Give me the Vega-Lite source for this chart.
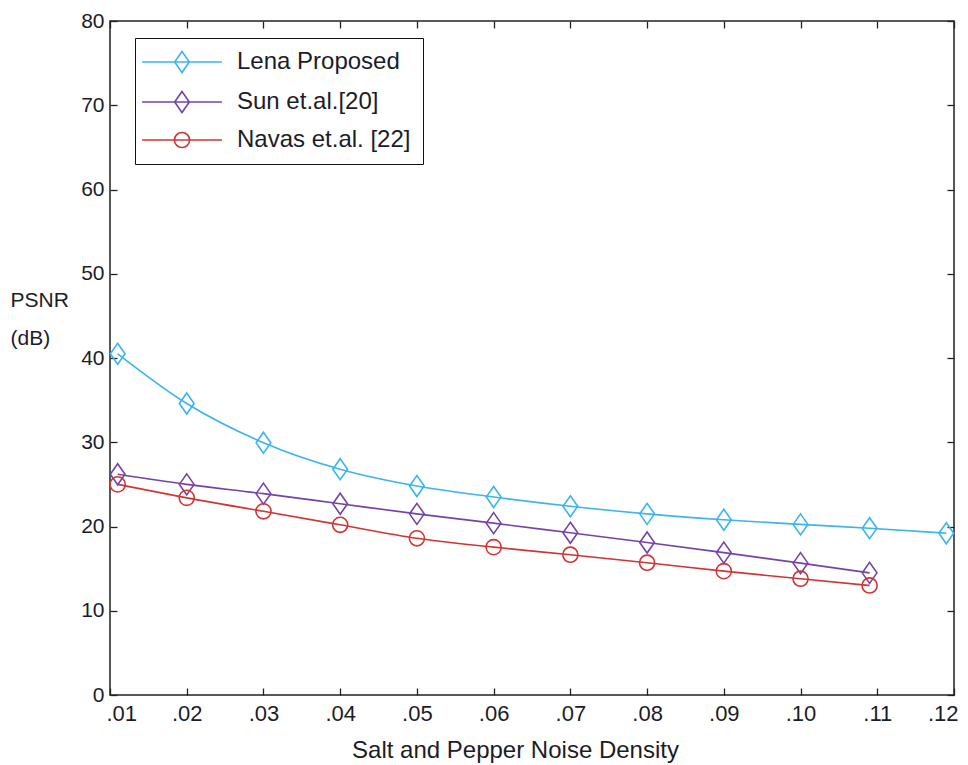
{
  "$schema": "https://vega.github.io/schema/vega-lite/v6.json",
  "width": 844,
  "height": 674,
  "autosize": "none",
  "padding": {"left": 110, "top": 21, "right": 14, "bottom": 70},
  "background": "white",
  "config": {
    "view": {"stroke": "#222222", "strokeWidth": 1.5},
    "font": "Liberation Sans, Arial, sans-serif"
  },
  "data": {
    "values": [
      {"method": "Lena Proposed", "density": 0.011, "psnr": 40.5},
      {"method": "Lena Proposed", "density": 0.02, "psnr": 34.6},
      {"method": "Lena Proposed", "density": 0.03, "psnr": 29.95},
      {"method": "Lena Proposed", "density": 0.04, "psnr": 26.8},
      {"method": "Lena Proposed", "density": 0.05, "psnr": 24.8},
      {"method": "Lena Proposed", "density": 0.06, "psnr": 23.5},
      {"method": "Lena Proposed", "density": 0.07, "psnr": 22.4},
      {"method": "Lena Proposed", "density": 0.08, "psnr": 21.5},
      {"method": "Lena Proposed", "density": 0.09, "psnr": 20.8},
      {"method": "Lena Proposed", "density": 0.10, "psnr": 20.25},
      {"method": "Lena Proposed", "density": 0.109, "psnr": 19.8},
      {"method": "Lena Proposed", "density": 0.119, "psnr": 19.2},
      {"method": "Sun et.al.[20]", "density": 0.011, "psnr": 26.2},
      {"method": "Sun et.al.[20]", "density": 0.02, "psnr": 25.0},
      {"method": "Sun et.al.[20]", "density": 0.03, "psnr": 23.9},
      {"method": "Sun et.al.[20]", "density": 0.04, "psnr": 22.7},
      {"method": "Sun et.al.[20]", "density": 0.05, "psnr": 21.5},
      {"method": "Sun et.al.[20]", "density": 0.06, "psnr": 20.4},
      {"method": "Sun et.al.[20]", "density": 0.07, "psnr": 19.25},
      {"method": "Sun et.al.[20]", "density": 0.08, "psnr": 18.1},
      {"method": "Sun et.al.[20]", "density": 0.09, "psnr": 16.9},
      {"method": "Sun et.al.[20]", "density": 0.10, "psnr": 15.65},
      {"method": "Sun et.al.[20]", "density": 0.109, "psnr": 14.5},
      {"method": "Navas et.al. [22]", "density": 0.011, "psnr": 25.0},
      {"method": "Navas et.al. [22]", "density": 0.02, "psnr": 23.4},
      {"method": "Navas et.al. [22]", "density": 0.03, "psnr": 21.8},
      {"method": "Navas et.al. [22]", "density": 0.04, "psnr": 20.2},
      {"method": "Navas et.al. [22]", "density": 0.05, "psnr": 18.6},
      {"method": "Navas et.al. [22]", "density": 0.06, "psnr": 17.55},
      {"method": "Navas et.al. [22]", "density": 0.07, "psnr": 16.65},
      {"method": "Navas et.al. [22]", "density": 0.08, "psnr": 15.7},
      {"method": "Navas et.al. [22]", "density": 0.09, "psnr": 14.7},
      {"method": "Navas et.al. [22]", "density": 0.10, "psnr": 13.8},
      {"method": "Navas et.al. [22]", "density": 0.109, "psnr": 13.0}
    ]
  },
  "encoding": {
    "color": {
      "field": "method", "type": "nominal",
      "scale": {
        "domain": ["Lena Proposed", "Sun et.al.[20]", "Navas et.al. [22]"],
        "range": ["#3bb5ec", "#7443a8", "#d03535"]
      },
      "legend": {
        "title": null, "orient": "none", "legendX": 25, "legendY": 17,
        "padding": 12, "strokeColor": "#111111", "fillColor": "white",
        "symbolSize": 441, "symbolStrokeWidth": 1.6, "symbolOffset": 23,
        "symbolFillColor": "transparent",
        "symbolType": {"expr": "datum.value === 'Navas et.al. [22]' ? 'M-3.8,0H3.8M0.72,0A0.72,0.72,0,1,1,-0.72,0A0.72,0.72,0,1,1,0.72,0Z' : 'M-3.8,0H3.8M0,-1L0.7,0L0,1L-0.7,0Z'"},
        "labelOffset": 43, "labelFontSize": 24, "labelColor": "#1c1c28",
        "labelExpr": "datum.label + '\u00a0\u00a0\u00a0\u00a0'",
        "rowPadding": 12, "labelLimit": 400
      }
    }
  },
  "layer": [
    {
      "mark": {"type": "line", "interpolate": "monotone", "strokeWidth": 1.6},
      "encoding": {
        "x": {
          "field": "density", "type": "quantitative",
          "scale": {"domain": [0.01, 0.12], "nice": false, "zero": false},
          "axis": {
            "orient": "bottom",
            "values": [0.01, 0.02, 0.03, 0.04, 0.05, 0.06, 0.07, 0.08, 0.09, 0.10, 0.11, 0.12],
            "labelExpr": "substring(format(datum.value, '.2f'), 1)",
            "domain": false, "grid": false,
            "tickSize": -7, "tickColor": "#222222", "tickWidth": 1.3,
            "labelPadding": 15,
            "labelFlush": true, "labelFlushOffset": 4,
            "labelFontSize": 22, "labelColor": "#1c1c28",
            "title": "Salt and Pepper Noise Density",
            "titleFontSize": 24, "titleFontWeight": "normal", "titleColor": "#1c1c28",
            "titleX": 405, "titleY": 62, "titleBaseline": "alphabetic", "titleAlign": "center"
          }
        },
        "y": {
          "field": "psnr", "type": "quantitative",
          "scale": {"domain": [0, 80], "nice": false},
          "axis": {
            "orient": "left",
            "values": [0, 10, 20, 30, 40, 50, 60, 70, 80],
            "domain": false, "grid": false,
            "tickSize": -7, "tickColor": "#222222", "tickWidth": 1.3,
            "labelPadding": 13,
            "labelFontSize": 21, "labelColor": "#1c1c28",
            "title": ["PSNR", "(dB)"],
            "titleAngle": 0, "titleAlign": "left", "titleBaseline": "top",
            "titleX": -100, "titleY": 268,
            "titleFontSize": 21, "titleFontWeight": "normal", "titleColor": "#1c1c28",
            "titleLineHeight": 38
          }
        }
      }
    },
    {
      "transform": [{"filter": "datum.method !== 'Navas et.al. [22]'"}],
      "mark": {"type": "point", "filled": false, "size": 441, "strokeWidth": 1.6, "opacity": 1, "shape": "M0,-1L0.7,0L0,1L-0.7,0Z"},
      "encoding": {
        "x": {
          "field": "density", "type": "quantitative",
          "scale": {"domain": [0.01, 0.12], "nice": false, "zero": false},
          "axis": {
            "orient": "top",
            "values": [0.01, 0.02, 0.03, 0.04, 0.05, 0.06, 0.07, 0.08, 0.09, 0.10, 0.11, 0.12],
            "labels": false, "title": null, "domain": false, "grid": false,
            "tickSize": -7, "tickColor": "#222222", "tickWidth": 1.3
          }
        },
        "y": {
          "field": "psnr", "type": "quantitative",
          "scale": {"domain": [0, 80], "nice": false},
          "axis": {
            "orient": "right",
            "values": [0, 10, 20, 30, 40, 50, 60, 70, 80],
            "labels": false, "title": null, "domain": false, "grid": false,
            "tickSize": -7, "tickColor": "#222222", "tickWidth": 1.3
          }
        }
      }
    },
    {
      "transform": [{"filter": "datum.method === 'Navas et.al. [22]'"}],
      "mark": {"type": "point", "filled": false, "size": 441, "strokeWidth": 1.6, "opacity": 1, "shape": "M0.72,0A0.72,0.72,0,1,1,-0.72,0A0.72,0.72,0,1,1,0.72,0Z"},
      "encoding": {
        "x": {"field": "density", "type": "quantitative", "axis": null},
        "y": {"field": "psnr", "type": "quantitative", "axis": null}
      }
    }
  ],
  "resolve": {"axis": {"x": "independent", "y": "independent"}}
}
